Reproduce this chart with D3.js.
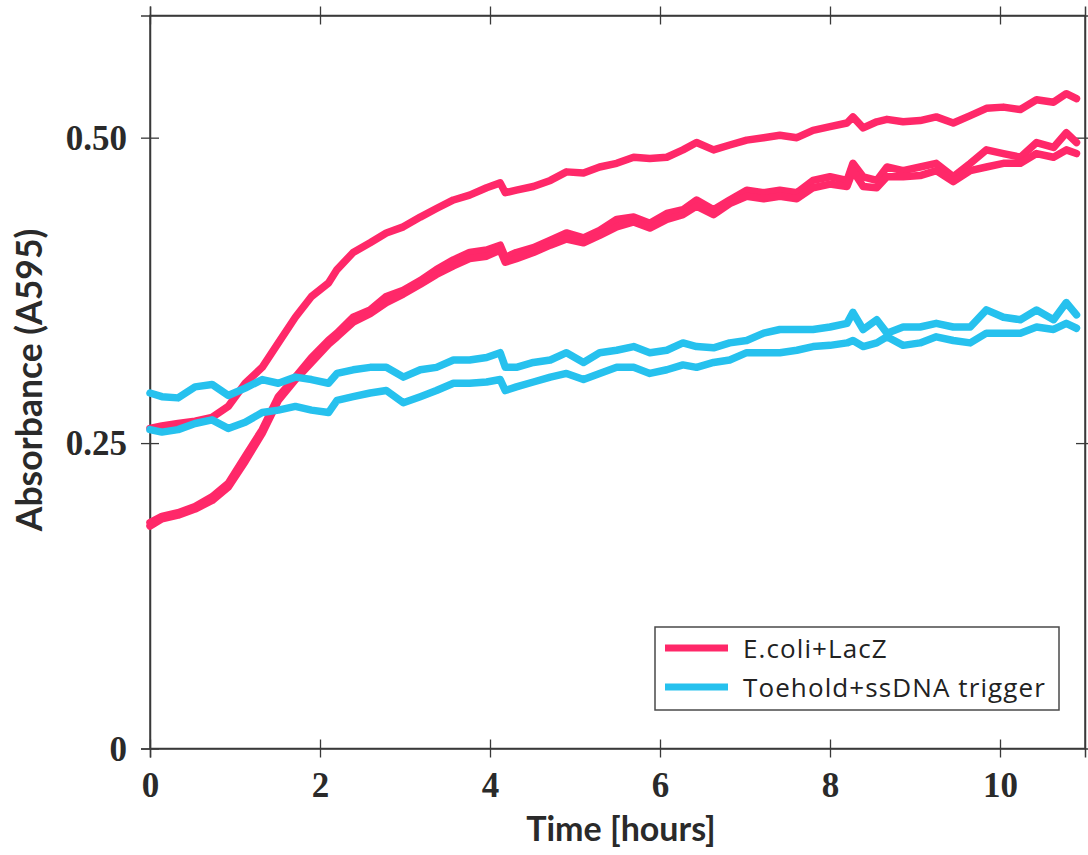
<!DOCTYPE html>
<html>
<head>
<meta charset="utf-8">
<script src="https://cdn.jsdelivr.net/npm/d3@7"></script>
<style>
  html, body { margin: 0; padding: 0; background: #fff; }
  svg { display: block; }
</style>
</head>
<body>
<svg id="chart" width="1088" height="855"></svg>
<script>
// ---- data ----
const timeHours = [0, 0.14, 0.33, 0.53, 0.73, 0.92, 1.12, 1.32, 1.51, 1.71, 1.9, 2.1, 2.2, 2.39, 2.59, 2.78, 2.98, 3.18, 3.37, 3.57, 3.76, 3.96, 4.12, 4.18, 4.31, 4.51, 4.71, 4.9, 5.1, 5.29, 5.49, 5.69, 5.88, 6.08, 6.27, 6.43, 6.63, 6.82, 7.02, 7.22, 7.41, 7.61, 7.8, 8.0, 8.2, 8.27, 8.39, 8.55, 8.67, 8.86, 9.06, 9.25, 9.45, 9.65, 9.84, 10.04, 10.24, 10.43, 10.63, 10.78, 10.9];

const ecoliRep1 = [0.262, 0.264, 0.266, 0.268, 0.271, 0.280, 0.299, 0.312, 0.332, 0.353, 0.370, 0.381, 0.392, 0.406, 0.414, 0.422, 0.427, 0.435, 0.442, 0.449, 0.453, 0.459, 0.463, 0.455, 0.457, 0.460, 0.465, 0.472, 0.471, 0.476, 0.479, 0.484, 0.483, 0.484, 0.490, 0.496, 0.490, 0.494, 0.498, 0.500, 0.502, 0.500, 0.506, 0.509, 0.512, 0.517, 0.508, 0.513, 0.515, 0.513, 0.514, 0.517, 0.512, 0.518, 0.524, 0.525, 0.523, 0.531, 0.529, 0.536, 0.532];
const ecoliRep2 = [0.185, 0.190, 0.193, 0.198, 0.206, 0.217, 0.239, 0.261, 0.288, 0.304, 0.320, 0.334, 0.340, 0.353, 0.359, 0.370, 0.375, 0.383, 0.392, 0.400, 0.406, 0.408, 0.412, 0.402, 0.406, 0.410, 0.416, 0.422, 0.418, 0.424, 0.433, 0.435, 0.430, 0.438, 0.441, 0.449, 0.441, 0.449, 0.457, 0.455, 0.457, 0.455, 0.465, 0.468, 0.465, 0.479, 0.468, 0.465, 0.476, 0.473, 0.476, 0.479, 0.468, 0.479, 0.490, 0.487, 0.484, 0.496, 0.492, 0.504, 0.496];
const ecoliRep3 = [0.182, 0.188, 0.191, 0.196, 0.203, 0.214, 0.235, 0.258, 0.285, 0.302, 0.316, 0.331, 0.337, 0.349, 0.356, 0.365, 0.372, 0.380, 0.388, 0.395, 0.401, 0.403, 0.408, 0.398, 0.401, 0.406, 0.412, 0.417, 0.414, 0.420, 0.427, 0.431, 0.426, 0.433, 0.437, 0.444, 0.437, 0.446, 0.452, 0.450, 0.452, 0.450, 0.459, 0.462, 0.460, 0.473, 0.460, 0.459, 0.468, 0.468, 0.469, 0.473, 0.464, 0.473, 0.476, 0.479, 0.479, 0.487, 0.484, 0.490, 0.487];
const toeholdRep1 = [0.291, 0.288, 0.287, 0.296, 0.298, 0.289, 0.295, 0.302, 0.299, 0.304, 0.302, 0.299, 0.307, 0.310, 0.312, 0.312, 0.304, 0.310, 0.312, 0.318, 0.318, 0.320, 0.324, 0.312, 0.312, 0.316, 0.318, 0.324, 0.316, 0.324, 0.326, 0.329, 0.324, 0.326, 0.332, 0.329, 0.328, 0.332, 0.334, 0.340, 0.343, 0.343, 0.343, 0.345, 0.348, 0.357, 0.343, 0.351, 0.340, 0.345, 0.345, 0.348, 0.345, 0.345, 0.359, 0.353, 0.351, 0.359, 0.351, 0.365, 0.355];
const toeholdRep2 = [0.261, 0.259, 0.261, 0.266, 0.269, 0.262, 0.267, 0.275, 0.277, 0.280, 0.277, 0.275, 0.285, 0.288, 0.291, 0.293, 0.283, 0.288, 0.293, 0.299, 0.299, 0.300, 0.302, 0.293, 0.296, 0.300, 0.304, 0.307, 0.302, 0.307, 0.312, 0.312, 0.307, 0.310, 0.314, 0.312, 0.316, 0.318, 0.324, 0.324, 0.324, 0.326, 0.329, 0.330, 0.332, 0.334, 0.329, 0.332, 0.337, 0.330, 0.332, 0.337, 0.334, 0.332, 0.340, 0.340, 0.340, 0.345, 0.343, 0.348, 0.344];

const xTicks = [0, 2, 4, 6, 8, 10];
const yTicks = [0, 0.25, 0.5];
const legendLabels = ["E.coli+LacZ", "Toehold+ssDNA trigger"];
const xTitle = "Time [hours]";
const yTitle = "Absorbance (A595)";

const pink = "#FF2869", cyan = "#26C1EE";
const seriesList = [
  { name: legendLabels[0], values: ecoliRep1, color: pink },
  { name: legendLabels[0], values: ecoliRep2, color: pink },
  { name: legendLabels[0], values: ecoliRep3, color: pink },
  { name: legendLabels[1], values: toeholdRep1, color: cyan },
  { name: legendLabels[1], values: toeholdRep2, color: cyan }
];
const legendColors = [pink, cyan];

// ---- layout ----
const plot = { left: 150, right: 1085, top: 15.5, bottom: 748.5 };
const svg = d3.select("#chart");
const x = d3.scaleLinear().domain([0, 11]).range([plot.left, plot.right]);
const y = d3.scaleLinear().domain([0, 0.6]).range([plot.bottom, plot.top]);

const axisColor = "#3a3a3a";
const tickFont = "'Liberation Serif', 'Times New Roman', serif";
const yFmt = d => d === 0 ? "0" : d3.format(".2f")(d);

function styleAxis(g, crossing, horizontal) {
  g.select(".domain").attr("stroke", axisColor).attr("stroke-width", 1.5);
  g.selectAll(".tick line").attr("stroke", axisColor).attr("stroke-width", 1.3);
  if (horizontal) g.selectAll(".tick line").attr("y1", -crossing).attr("y2", crossing);
  else g.selectAll(".tick line").attr("x1", -crossing).attr("x2", crossing);
}

// bottom axis
const gx = svg.append("g").attr("transform", `translate(0,${plot.bottom})`)
  .call(d3.axisBottom(x).tickValues(xTicks).tickSizeOuter(0).tickSize(9).tickPadding(20).tickFormat(d3.format("d")));
styleAxis(gx, 9, true);
gx.selectAll(".tick text").attr("font-family", tickFont).attr("font-weight", "bold")
  .attr("font-size", 35).attr("fill", "#2a2a2a").attr("dy", "0.55em");

// top axis
const gt = svg.append("g").attr("transform", `translate(0,${plot.top})`)
  .call(d3.axisTop(x).tickValues(xTicks).tickSizeOuter(0).tickSize(9).tickFormat(""));
styleAxis(gt, 9, true);

// left axis
const gy = svg.append("g").attr("transform", `translate(${plot.left},0)`)
  .call(d3.axisLeft(y).tickValues(yTicks).tickSizeOuter(0).tickSize(9).tickPadding(14).tickFormat(yFmt));
styleAxis(gy, 9, false);
gy.selectAll(".tick text").attr("font-family", tickFont).attr("font-weight", "bold")
  .attr("font-size", 35).attr("fill", "#2a2a2a").attr("dy", "0.33em");

// right axis
const gr = svg.append("g").attr("transform", `translate(${plot.right},0)`)
  .call(d3.axisRight(y).tickValues(yTicks.filter(d => d > 0)).tickSizeOuter(0).tickSize(9).tickFormat(""));
styleAxis(gr, 9, false);

// frame
svg.append("rect")
  .attr("x", plot.left).attr("y", plot.top)
  .attr("width", plot.right - plot.left).attr("height", plot.bottom - plot.top)
  .attr("fill", "none").attr("stroke", axisColor).attr("stroke-width", 1.5);

// lines
const line = d3.line().x((d, i) => x(timeHours[i])).y(d => y(d));
svg.append("g").selectAll("path").data(seriesList).join("path")
  .attr("d", s => line(s.values))
  .attr("fill", "none")
  .attr("stroke", s => s.color)
  .attr("stroke-width", 7.5)
  .attr("stroke-linejoin", "round")
  .attr("stroke-linecap", "round");

// axis titles
const titleFont = "Lato, 'Open Sans', sans-serif";
svg.append("text").attr("x", 621).attr("y", 841)
  .attr("text-anchor", "middle").attr("font-family", titleFont).attr("font-weight", "bold")
  .attr("font-size", 34).attr("fill", "#2a2a2a").text(xTitle);
svg.append("text").attr("transform", `translate(42,${(plot.top + plot.bottom) / 2 - 2}) rotate(-90)`)
  .attr("text-anchor", "middle").attr("font-family", titleFont).attr("font-weight", "bold")
  .attr("font-size", 35.5).attr("fill", "#2a2a2a").text(yTitle);

// legend
const lg = svg.append("g");
lg.append("rect").attr("x", 655).attr("y", 627).attr("width", 404).attr("height", 83)
  .attr("fill", "#fff").attr("stroke", "#4a4a4a").attr("stroke-width", 1.5);
legendLabels.forEach((lab, i) => {
  const cy = 648 + i * 39;
  lg.append("line").attr("x1", 665).attr("x2", 728).attr("y1", cy).attr("y2", cy)
    .attr("stroke", legendColors[i]).attr("stroke-width", 7);
  lg.append("text").attr("x", 743).attr("y", cy + 10)
    .attr("font-family", "'Open Sans', sans-serif").attr("font-size", 26)
    .attr("letter-spacing", 1.1)
    .attr("fill", "#222").text(lab);
});
</script>
</body>
</html>
